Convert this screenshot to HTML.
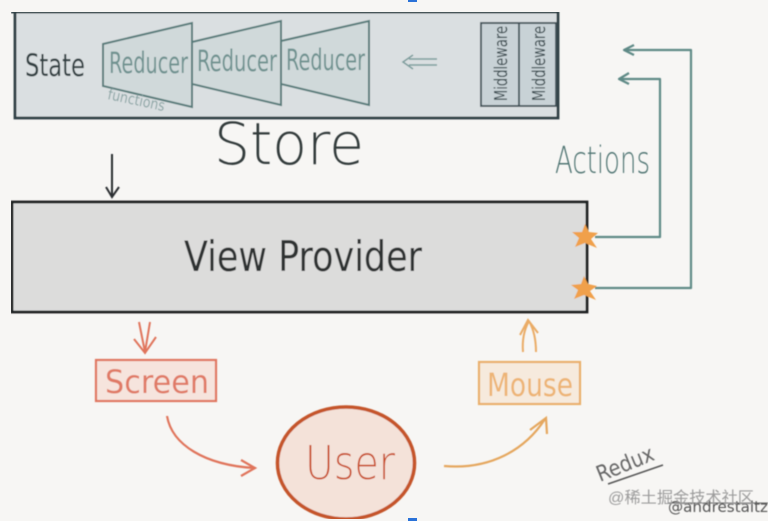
<!DOCTYPE html>
<html><head><meta charset="utf-8"><style>
html,body{margin:0;padding:0;background:#f7f6f4;width:768px;height:521px;overflow:hidden}
svg{display:block}
text{font-family:"DejaVu Sans","Liberation Sans","Noto Sans CJK SC",sans-serif}
.t{font-weight:200}
</style></head><body>
<svg width="768" height="521" viewBox="0 0 768 521" xmlns="http://www.w3.org/2000/svg">
<rect width="768" height="521" fill="#f7f6f4"/>
<rect x="408" y="0" width="9" height="2" fill="#2a72d8"/>
<rect x="408" y="518" width="9" height="3" fill="#2a72d8"/>
<g filter="url(#b)">
<!-- Store -->
<rect x="16" y="12" width="541" height="106" fill="#dadfe1"/>
<path d="M11 12H558V118H15V12" fill="none" stroke="#2f3f45" stroke-width="2.8"/>
<g fill="#d0d9da" stroke="#587c7a" stroke-width="2">
<path d="M103 44L192 23V107L103 86Z"/>
<path d="M192 42L281 21V105L192 84Z"/>
<path d="M281 41L369 21V105L281 84Z"/>
</g>
<rect x="481" y="23" width="75" height="83" fill="#c8d2d6" stroke="#3f5056" stroke-width="1.8"/>
<line x1="519" y1="23" x2="519" y2="106" stroke="#3f5056" stroke-width="1.8"/>
<text x="25" y="76" font-size="31" fill="#333f42" textLength="60" lengthAdjust="spacingAndGlyphs">State</text>
<g fill="#6f9290" font-size="29">
<text x="109" y="73" textLength="79" lengthAdjust="spacingAndGlyphs">Reducer</text>
<text x="197" y="71" textLength="80" lengthAdjust="spacingAndGlyphs">Reducer</text>
<text x="286" y="70" textLength="79" lengthAdjust="spacingAndGlyphs">Reducer</text>
</g>
<text x="107" y="99" font-size="15" fill="#8ca5a5" textLength="58" lengthAdjust="spacingAndGlyphs" transform="rotate(12 107 99)">functions</text>
<g fill="#36474c" font-size="18">
<text transform="translate(507,101) rotate(-90)" textLength="75" lengthAdjust="spacingAndGlyphs">Middleware</text>
<text transform="translate(545,101) rotate(-90)" textLength="75" lengthAdjust="spacingAndGlyphs">Middleware</text>
</g>
<path d="M437 59H409M437 65H409M413 55L403 62L413 69" fill="none" stroke="#7a9c9b" stroke-width="1.5"/>
<text class="t" x="214" y="164" font-size="58" fill="#333a3b" textLength="150" lengthAdjust="spacingAndGlyphs">Store</text>
<!-- down arrow -->
<path d="M112 154V196M106 187L112 197L119 187" fill="none" stroke="#2c2f30" stroke-width="2"/>
<!-- View -->
<rect x="12" y="202" width="575" height="110" fill="#dcdcdb" stroke="#1f2121" stroke-width="2.8"/>
<text x="184" y="271" font-size="42" fill="#2e3030" textLength="238" lengthAdjust="spacingAndGlyphs">View Provider</text>
<!-- Actions -->
<text class="t" x="555" y="173" font-size="37" fill="#4f7472" textLength="95" lengthAdjust="spacingAndGlyphs">Actions</text>
<g fill="none" stroke="#5f8a86" stroke-width="2.2" stroke-linejoin="round">
<path d="M595 237H660V79H620"/>
<path d="M595 288H691V50H625"/>
<path d="M629 73L619 79L629 84"/>
<path d="M634 45L624 50L634 55"/>
</g>
<g fill="#f0a04b">
<path d="M585 224L589 232L598 233L591 239L597 248L585 243L575 247L579 238L572 232L582 232Z"/>
<path d="M584 276L588 284L597 286L590 291L596 300L584 295L574 299L578 290L571 285L581 284Z"/>
</g>
<!-- Screen -->
<path d="M139 322L145 352M150 322L145 352M134 339L145 353L156 337" fill="none" stroke="#e0755c" stroke-width="2"/>
<rect x="96" y="360" width="120" height="41" fill="#f6e4dd" stroke="#e0765f" stroke-width="2.2"/>
<text x="105" y="393" font-size="32" fill="#e07a66" textLength="104" lengthAdjust="spacingAndGlyphs">Screen</text>
<path d="M167 416C172 445 205 465 254 468M241 460L255 468L241 476" fill="none" stroke="#e0755c" stroke-width="2.2"/>
<!-- User -->
<ellipse cx="346" cy="463" rx="68.5" ry="56" fill="#f4e2d9" stroke="#c5552a" stroke-width="3.6"/>
<text class="t" x="305" y="479" font-size="46" fill="#c9502a" textLength="90" lengthAdjust="spacingAndGlyphs">User</text>
<!-- Mouse -->
<path d="M523 352C522 340 524 330 529 321M536 352C536 340 534 330 529 321M520 335L528 320L538 333" fill="none" stroke="#eaac66" stroke-width="2"/>
<rect x="479" y="362" width="101" height="42" fill="#f6eadd" stroke="#eaaf6b" stroke-width="2.2"/>
<text x="487" y="396" font-size="32" fill="#edb475" textLength="86" lengthAdjust="spacingAndGlyphs">Mouse</text>
<path d="M444 466C490 470 525 450 545 419M530 430L546 418L547 434" fill="none" stroke="#e5a75f" stroke-width="2.2"/>
<!-- Redux -->
<text x="600" y="482" font-size="22" fill="#666" textLength="60" lengthAdjust="spacingAndGlyphs" transform="rotate(-22 600 482)">Redux</text>
<path d="M608 484L663 465" stroke="#555" stroke-width="1.5" fill="none"/>
<text x="668" y="512" font-size="15" fill="#555" textLength="100" lengthAdjust="spacingAndGlyphs">@andrestaltz</text>
<path d="M668 503H768" stroke="#666" stroke-width="1"/>
<text x="608" y="503" font-size="16" fill="#9b9b9b" textLength="146" lengthAdjust="spacingAndGlyphs" style="font-family:'Liberation Sans','Noto Sans CJK SC',sans-serif">@稀土掘金技术社区</text>
</g>
<defs><filter id="b" x="0" y="0" width="100%" height="100%"><feGaussianBlur stdDeviation="0.5"/></filter></defs>
</svg>
</body></html>
